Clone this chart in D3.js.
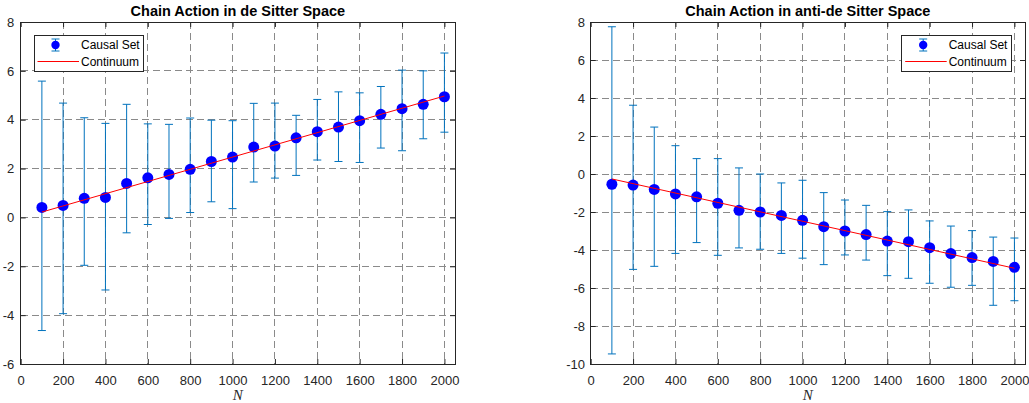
<!DOCTYPE html>
<html>
<head>
<meta charset="utf-8">
<script src="https://cdn.jsdelivr.net/npm/d3@7"></script>
<style>
  html, body { margin: 0; padding: 0; background: #fff; }
  svg { display: block; }
</style>
</head>
<body>
<svg id="chart" width="1029" height="403"></svg>
<script>
// ---- Data ----
const N = [100,200,300,400,500,600,700,800,900,1000,1100,1200,1300,1400,1500,1600,1700,1800,1900,2000];

const dsMean  = [0.41,0.49,0.78,0.82,1.39,1.62,1.76,1.97,2.29,2.47,2.88,2.92,3.26,3.51,3.70,3.96,4.22,4.45,4.63,4.94];
const dsUpper = [5.58,4.68,4.08,3.85,4.63,3.83,3.81,4.07,3.98,3.96,4.67,4.68,4.18,4.83,5.14,5.10,5.36,6.03,6.00,6.73];
const dsLower = [-4.63,-3.94,-1.96,-2.97,-0.63,-0.29,-0.04,0.20,0.64,0.36,1.45,1.61,1.72,2.35,2.29,2.25,2.84,2.73,3.22,3.49];

const adsMean  = [-0.54,-0.58,-0.81,-1.05,-1.20,-1.54,-1.91,-2.00,-2.18,-2.44,-2.77,-3.00,-3.19,-3.53,-3.56,-3.88,-4.19,-4.40,-4.60,-4.91];
const adsUpper = [7.75,3.62,2.47,1.49,0.81,0.81,0.32,0.00,-0.47,-0.33,-0.98,-1.37,-1.65,-1.98,-1.89,-2.47,-2.74,-2.98,-3.32,-3.37];
const adsLower = [-9.47,-5.02,-4.86,-4.18,-3.61,-4.28,-3.89,-3.96,-4.18,-4.43,-4.77,-4.26,-4.53,-5.35,-5.49,-5.75,-5.96,-5.86,-6.91,-6.67];

const contN   = [100, 2000];
const dsCont  = [0.22, 4.97];
const adsCont = [-0.26, -4.96];

const xTicks      = [0,200,400,600,800,1000,1200,1400,1600,1800,2000];
const yTicksLeft  = [-6,-4,-2,0,2,4,6,8];
const yTicksRight = [-10,-8,-6,-4,-2,0,2,4,6,8];

const titles = ["Chain Action in de Sitter Space", "Chain Action in anti-de Sitter Space"];
const legendLabels = ["Causal Set", "Continuum"];
const xLabel = "N";

// ---- Styles ----
const AXIS_COLOR = "#262626";
const GRID_COLOR = "#8a8a8a";
const ERR_COLOR = "#0072BD";
const MARK_COLOR = "#0000FF";
const LINE_COLOR = "#FF0000";
const FONT = "'Liberation Sans', Arial, Helvetica, sans-serif";

const svg = d3.select("#chart");
const fmt = d => String(d);

function panel(cfg) {
  const x = d3.scaleLinear().domain([0, 2050]).range([cfg.left, cfg.right]);
  const y = d3.scaleLinear().domain(cfg.yDomain).range([cfg.bottom, cfg.top]);
  const g = svg.append("g");

  // grid
  g.append("g").selectAll("line").data(xTicks.filter(t => t > 0)).join("line")
    .attr("x1", d => x(d)).attr("x2", d => x(d))
    .attr("y1", cfg.top).attr("y2", cfg.bottom)
    .attr("stroke", GRID_COLOR).attr("stroke-width", 1).attr("stroke-dasharray", "7,4")
    .attr("shape-rendering", "crispEdges");
  g.append("g").selectAll("line").data(cfg.yTicks.filter(t => t > cfg.yDomain[0] && t < cfg.yDomain[1])).join("line")
    .attr("x1", cfg.left).attr("x2", cfg.right)
    .attr("y1", d => y(d)).attr("y2", d => y(d))
    .attr("stroke", GRID_COLOR).attr("stroke-width", 1).attr("stroke-dasharray", "7,4")
    .attr("shape-rendering", "crispEdges");

  // axes via d3 axis (inward ticks)
  const tk = 5;
  const xAxisB = d3.axisBottom(x).tickValues(xTicks).tickSizeInner(-tk).tickSizeOuter(0).tickPadding(12).tickFormat(fmt);
  const xAxisT = d3.axisTop(x).tickValues(xTicks).tickSizeInner(-tk).tickSizeOuter(0).tickFormat("");
  const yAxisL = d3.axisLeft(y).tickValues(cfg.yTicks).tickSizeInner(-tk).tickSizeOuter(0).tickPadding(cfg.yPad).tickFormat(fmt);
  const yAxisR = d3.axisRight(y).tickValues(cfg.yTicks).tickSizeInner(-tk).tickSizeOuter(0).tickFormat("");

  function style(sel) {
    sel.selectAll("path").remove();
    sel.selectAll("line").attr("stroke", AXIS_COLOR);
    sel.selectAll("text").attr("fill", AXIS_COLOR).style("font-family", FONT).style("font-size", "13px");
  }
  g.append("g").attr("transform", `translate(0,${cfg.bottom})`).call(xAxisB).call(style);
  g.append("g").attr("transform", `translate(0,${cfg.top})`).call(xAxisT).call(style);
  g.append("g").attr("transform", `translate(${cfg.left},0)`).call(yAxisL).call(style);
  g.append("g").attr("transform", `translate(${cfg.right},0)`).call(yAxisR).call(style);

  // box
  g.append("rect").attr("x", cfg.left).attr("y", cfg.top)
    .attr("width", cfg.right - cfg.left).attr("height", cfg.bottom - cfg.top)
    .attr("fill", "none").attr("stroke", AXIS_COLOR).attr("stroke-width", 1)
    .attr("shape-rendering", "crispEdges");

  // error bars
  const idx = d3.range(N.length);
  const eb = g.append("g").attr("stroke", ERR_COLOR).attr("stroke-width", 1);
  eb.selectAll("line.v").data(idx).join("line").attr("class", "v")
    .attr("x1", i => x(N[i])).attr("x2", i => x(N[i]))
    .attr("y1", i => y(cfg.upper[i])).attr("y2", i => y(cfg.lower[i]));
  eb.selectAll("line.t").data(idx).join("line").attr("class", "t")
    .attr("x1", i => x(N[i]) - 4).attr("x2", i => x(N[i]) + 4)
    .attr("y1", i => y(cfg.upper[i])).attr("y2", i => y(cfg.upper[i]));
  eb.selectAll("line.b").data(idx).join("line").attr("class", "b")
    .attr("x1", i => x(N[i]) - 4).attr("x2", i => x(N[i]) + 4)
    .attr("y1", i => y(cfg.lower[i])).attr("y2", i => y(cfg.lower[i]));

  // markers
  g.append("g").selectAll("circle").data(idx).join("circle")
    .attr("cx", i => x(N[i])).attr("cy", i => y(cfg.mean[i])).attr("r", 5.5)
    .attr("fill", MARK_COLOR);

  // continuum line
  const line = d3.line().x((d, i) => x(contN[i])).y(d => y(d));
  g.append("path").datum(cfg.cont).attr("d", line)
    .attr("fill", "none").attr("stroke", LINE_COLOR).attr("stroke-width", 1);

  // title
  g.append("text").attr("x", (cfg.left + cfg.right) / 2).attr("y", 16)
    .attr("text-anchor", "middle").attr("fill", "#000")
    .style("font-family", FONT).style("font-size", "14.5px").style("font-weight", "bold")
    .text(cfg.title);

  // x label
  g.append("text").attr("x", (cfg.left + cfg.right) / 2).attr("y", 400)
    .attr("text-anchor", "middle").attr("fill", AXIS_COLOR)
    .style("font-family", "'Liberation Serif', 'Times New Roman', serif")
    .style("font-style", "italic").style("font-size", "15px")
    .text(xLabel);

  // legend
  const L = cfg.legend;
  const lg = g.append("g");
  lg.append("rect").attr("x", L.x).attr("y", L.y).attr("width", L.w).attr("height", L.h)
    .attr("fill", "#fff").attr("stroke", AXIS_COLOR).attr("stroke-width", 1)
    .attr("shape-rendering", "crispEdges");
  const mx = L.x + 21.5, my = L.y + 10;
  lg.append("line").attr("x1", mx).attr("x2", mx).attr("y1", my - 6).attr("y2", my + 6)
    .attr("stroke", ERR_COLOR).attr("stroke-width", 1);
  lg.append("line").attr("x1", mx - 4).attr("x2", mx + 4).attr("y1", my - 6).attr("y2", my - 6)
    .attr("stroke", ERR_COLOR).attr("stroke-width", 1);
  lg.append("line").attr("x1", mx - 4).attr("x2", mx + 4).attr("y1", my + 6).attr("y2", my + 6)
    .attr("stroke", ERR_COLOR).attr("stroke-width", 1);
  lg.append("circle").attr("cx", mx).attr("cy", my).attr("r", 4.2).attr("fill", MARK_COLOR);
  lg.append("line").attr("x1", L.x + 3.5).attr("x2", L.x + 45).attr("y1", L.y + 26.5).attr("y2", L.y + 26.5)
    .attr("stroke", LINE_COLOR).attr("stroke-width", 1);
  lg.selectAll("text").data(legendLabels).join("text")
    .attr("x", L.x + 47).attr("y", (d, i) => L.y + 14 + i * 16.5)
    .attr("fill", "#000").style("font-family", FONT).style("font-size", "12px")
    .text(d => d);
}

panel({
  left: 20.7, right: 455, top: 22, bottom: 364, yPad: 6.5,
  yDomain: [-6, 8], yTicks: yTicksLeft,
  mean: dsMean, upper: dsUpper, lower: dsLower, cont: dsCont,
  title: titles[0],
  legend: { x: 34, y: 35, w: 109.5, h: 36 }
});

panel({
  left: 590.7, right: 1025, top: 22, bottom: 364, yPad: 5.7,
  yDomain: [-10, 8], yTicks: yTicksRight,
  mean: adsMean, upper: adsUpper, lower: adsLower, cont: adsCont,
  title: titles[1],
  legend: { x: 901.7, y: 35, w: 110, h: 36 }
});
</script>
</body>
</html>
